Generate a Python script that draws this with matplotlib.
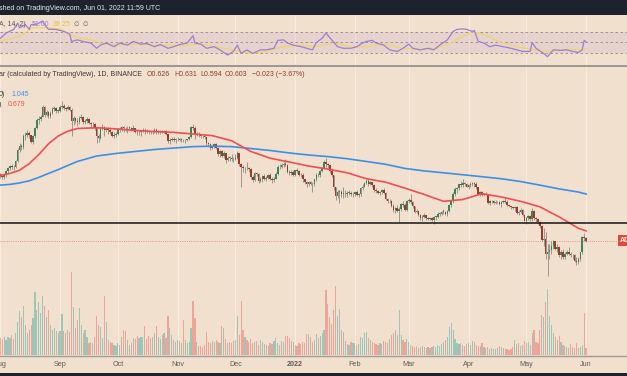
import datetime as dt
import numpy as np
import matplotlib
matplotlib.use("Agg")
import matplotlib.pyplot as plt
from matplotlib.patches import Rectangle
from matplotlib.lines import Line2D

plt.rcParams['font.family'] = ['Liberation Sans', 'DejaVu Sans']

# ---------------- data (ADA/USDT daily, Aug 1 2021 - Jun 1 2022) ----------------
start_date = dt.date(2021, 8, 1)
first_open = 1.32

close_aug = [1.29,1.27,1.30,1.37,1.41,1.45,1.44,1.43,1.53,1.74,1.84,1.81,2.07,2.09,2.13,2.08,
             1.93,2.05,2.26,2.48,2.50,2.58,2.90,2.65,2.72,2.59,2.70,2.82,2.87,2.76,2.77]
high_aug = [1.33,1.31,1.32,1.39,1.43,1.47,1.49,1.47,1.56,1.80,1.90,1.88,2.10,2.15,2.20,2.18,
            2.09,2.09,2.30,2.55,2.59,2.65,2.95,2.92,2.80,2.75,2.76,2.88,2.93,2.90,2.84]
low_aug = [1.26,1.24,1.25,1.28,1.34,1.38,1.40,1.38,1.42,1.52,1.70,1.75,1.78,1.97,2.03,2.02,
           1.90,1.88,2.02,2.24,2.36,2.46,2.57,2.58,2.60,2.53,2.55,2.66,2.76,2.70,2.70]

close_sep = [2.88,2.94,2.86,2.83,2.91,2.81,2.45,2.53,2.47,2.42,2.55,2.58,2.44,2.46,2.52,2.40,
             2.36,2.37,2.26,2.06,2.02,2.25,2.29,2.20,2.26,2.21,2.15,2.06,2.08,2.12]
high_sep = [2.96,3.10,2.98,2.90,2.96,2.94,2.85,2.60,2.57,2.55,2.60,2.66,2.60,2.52,2.56,2.54,
            2.43,2.44,2.40,2.28,2.12,2.28,2.36,2.33,2.30,2.30,2.29,2.18,2.15,2.17]
low_sep = [2.74,2.82,2.78,2.76,2.80,2.77,2.05,2.35,2.40,2.33,2.37,2.50,2.38,2.36,2.41,2.37,
           2.28,2.30,2.22,1.91,1.93,2.00,2.21,2.07,2.16,2.12,2.10,2.04,2.01,2.04]

close_oct = [2.23,2.22,2.28,2.26,2.25,2.26,2.27,2.22,2.25,2.17,2.15,2.15,2.18,2.20,2.19,2.17,
             2.16,2.15,2.16,2.21,2.15,2.15,2.19,2.16,2.19,2.10,1.95,1.97,1.98,1.96,1.98]
high_oct = [2.26,2.28,2.32,2.33,2.30,2.31,2.32,2.29,2.35,2.27,2.21,2.21,2.22,2.25,2.26,2.24,
            2.20,2.19,2.20,2.26,2.26,2.20,2.22,2.21,2.22,2.22,2.12,2.02,2.03,2.03,2.01]
low_oct = [2.08,2.17,2.18,2.16,2.19,2.13,2.21,2.19,2.18,2.14,2.08,2.09,2.07,2.15,2.11,2.13,
           2.10,2.10,2.11,2.13,2.12,2.10,2.12,2.14,2.13,2.08,1.91,1.87,1.94,1.93,1.91]

close_nov = [1.99,1.97,1.97,1.96,1.96,1.98,2.03,2.28,2.27,2.10,2.12,2.08,2.06,2.05,2.03,1.89,
             1.88,1.79,1.83,1.87,1.80,1.67,1.73,1.64,1.68,1.55,1.60,1.59,1.58,1.57]
high_nov = [2.03,2.01,2.01,2.00,1.99,2.00,2.05,2.33,2.37,2.32,2.15,2.15,2.11,2.08,2.09,2.03,
            1.93,1.90,1.85,1.90,1.90,1.81,1.75,1.75,1.73,1.69,1.63,1.63,1.66,1.62]
low_nov = [1.94,1.94,1.93,1.93,1.91,1.94,1.96,2.02,2.20,2.00,2.05,2.03,2.02,2.01,1.98,1.86,
           1.82,1.75,1.77,1.80,1.78,1.63,1.62,1.62,1.60,1.51,1.53,1.53,1.54,1.52]

close_dec = [1.60,1.68,1.49,1.43,1.41,1.42,1.41,1.40,1.27,1.23,1.33,1.32,1.22,1.24,1.29,1.25,
             1.26,1.30,1.25,1.23,1.25,1.32,1.44,1.43,1.46,1.49,1.47,1.36,1.33,1.36,1.31]
high_dec = [1.66,1.72,1.69,1.50,1.47,1.44,1.52,1.44,1.42,1.30,1.35,1.36,1.33,1.27,1.31,1.32,
            1.29,1.32,1.33,1.27,1.28,1.35,1.46,1.48,1.50,1.52,1.58,1.48,1.39,1.38,1.39]
low_dec = [1.55,1.57,1.45,1.13,1.35,1.33,1.39,1.35,1.25,1.21,1.22,1.29,1.19,1.20,1.21,1.23,
           1.22,1.24,1.23,1.19,1.21,1.24,1.31,1.40,1.41,1.44,1.45,1.34,1.30,1.31,1.29]

close_jan = [1.38,1.37,1.31,1.30,1.24,1.20,1.18,1.20,1.18,1.17,1.24,1.31,1.30,1.37,1.42,1.52,
             1.48,1.46,1.37,1.30,1.13,1.02,1.07,1.07,1.05,1.05,1.04,1.06,1.06,1.04,1.05]
high_jan = [1.39,1.41,1.39,1.34,1.33,1.24,1.22,1.22,1.22,1.20,1.25,1.33,1.34,1.38,1.44,1.56,
            1.60,1.50,1.48,1.40,1.31,1.14,1.10,1.10,1.10,1.13,1.09,1.08,1.09,1.08,1.07]
low_jan = [1.29,1.34,1.29,1.28,1.20,1.17,1.14,1.15,1.16,1.07,1.15,1.22,1.27,1.27,1.35,1.41,
           1.44,1.41,1.34,1.27,1.09,0.98,1.00,0.94,1.01,1.00,1.01,1.01,1.03,1.02,1.01]

close_feb = [1.07,1.03,1.04,1.12,1.14,1.19,1.22,1.18,1.20,1.16,1.09,1.08,1.06,1.07,1.10,1.06,
             0.99,0.96,0.96,0.91,0.87,0.89,0.86,0.88,0.93,0.92,0.87,0.96]
high_feb = [1.08,1.09,1.06,1.13,1.17,1.20,1.25,1.24,1.22,1.21,1.17,1.12,1.10,1.08,1.11,1.12,
            1.07,1.00,0.99,0.97,0.93,0.90,0.92,0.90,0.94,0.96,0.94,0.97]
low_feb = [1.02,1.02,1.01,1.02,1.10,1.13,1.17,1.15,1.16,1.13,1.07,1.06,1.04,1.03,1.05,1.05,
           0.98,0.94,0.94,0.90,0.85,0.84,0.85,0.75,0.86,0.90,0.86,0.86]

close_mar = [0.97,0.95,0.91,0.85,0.86,0.82,0.79,0.80,0.82,0.79,0.78,0.79,0.77,0.80,0.80,0.83,
             0.83,0.85,0.85,0.83,0.86,0.92,0.96,1.04,1.11,1.12,1.17,1.16,1.19,1.18,1.14]
high_mar = [1.00,1.04,0.96,0.91,0.88,0.86,0.83,0.82,0.84,0.82,0.80,0.80,0.80,0.81,0.81,0.85,
            0.85,0.86,0.88,0.86,0.87,0.93,0.97,1.07,1.13,1.14,1.18,1.22,1.24,1.21,1.19]
low_mar = [0.94,0.93,0.89,0.84,0.84,0.81,0.77,0.76,0.79,0.77,0.77,0.77,0.76,0.74,0.77,0.79,
           0.81,0.82,0.83,0.82,0.81,0.85,0.90,0.94,1.02,1.06,1.09,1.13,1.13,1.15,1.13]

close_apr = [1.16,1.17,1.19,1.18,1.13,1.04,1.07,1.03,1.05,1.04,0.94,0.96,0.96,0.94,0.95,0.95,
             0.93,0.95,0.96,0.95,0.92,0.91,0.90,0.89,0.90,0.84,0.85,0.87,0.82,0.76]
high_apr = [1.17,1.20,1.20,1.21,1.20,1.13,1.08,1.08,1.06,1.07,1.04,0.97,0.98,0.97,0.97,0.96,
            0.96,0.96,0.98,1.00,0.98,0.92,0.91,0.90,0.91,0.91,0.87,0.89,0.88,0.83]
low_apr = [1.11,1.13,1.15,1.14,1.11,1.03,1.02,1.02,1.02,1.03,0.93,0.92,0.94,0.93,0.93,0.94,
           0.92,0.90,0.94,0.94,0.91,0.90,0.88,0.88,0.86,0.83,0.82,0.84,0.81,0.76]

close_may = [0.79,0.81,0.78,0.86,0.79,0.78,0.75,0.72,0.61,0.62,0.52,0.53,0.54,0.57,0.60,0.55,
             0.56,0.51,0.53,0.50,0.52,0.53,0.52,0.51,0.51,0.48,0.47,0.49,0.53,0.63,0.626]
high_may = [0.80,0.82,0.82,0.89,0.87,0.80,0.79,0.76,0.73,0.70,0.67,0.58,0.58,0.60,0.61,0.60,
            0.58,0.57,0.54,0.55,0.53,0.54,0.56,0.53,0.52,0.52,0.50,0.50,0.53,0.64,0.66]
low_may = [0.74,0.77,0.76,0.76,0.77,0.75,0.74,0.70,0.60,0.57,0.49,0.40,0.49,0.52,0.55,0.54,
           0.53,0.50,0.49,0.49,0.49,0.51,0.51,0.50,0.49,0.47,0.455,0.46,0.48,0.52,0.60]

close_jun = [0.603]
high_jun = [0.631]
low_jun = [0.594]

vol_aug = [17,16,18,15,18,17,20,16,22,33,44,38,49,30,22,25,30,37,63,45,53,42,59,49,38,45,30,25,27,24,22]
vol_sep = [24,41,24,22,25,23,83,48,27,35,47,30,22,25,18,12,13,12,18,39,30,28,17,59,33,15,13,12,10,9]
vol_oct = [12,10,18,25,24,15,10,12,17,16,19,17,18,18,29,16,19,17,18,22,29,18,16,20,22,17,39,27,20,15,13]
vol_nov = [15,14,12,35,15,12,13,27,54,37,13,9,9,8,10,23,13,12,14,13,15,13,12,29,27,16,12,13,12,14]
vol_dec = [15,39,20,54,25,18,15,13,16,12,13,14,10,15,13,11,10,9,12,11,14,17,12,10,14,13,19,19,17,14,13]
vol_jan = [10,9,12,11,13,12,21,21,18,13,15,21,17,19,22,25,65,51,38,31,45,69,39,46,25,23,14,11,10,13,12]
vol_feb = [12,10,11,18,17,22,23,17,15,13,12,11,10,12,11,14,13,12,16,20,22,25,20,45,20,15,13,16]
vol_mar = [13,10,9,8,9,7,8,9,8,7,8,7,8,9,8,10,9,11,13,15,18,28,32,25,16,12,11,12,10,9,11]
vol_apr = [12,10,14,13,10,9,9,12,8,7,8,6,7,6,6,7,9,8,7,6,6,5,6,8,15,11,12,9,10,14]
vol_may = [12,13,10,22,25,13,12,25,40,38,53,66,39,30,22,18,15,19,13,10,9,8,7,11,8,7,12,7,8,10,42]
vol_jun = [7]

# moving averages (day index from Aug 1 2021)
ma_days = [0,5,10,15,20,25,30,35,40,50,60,70,80,90,100,110,120,130,140,150,160,170,180,190,200,
           210,220,230,240,250,260,270,280,290,300,304]
ma50_vals = [1.30,1.33,1.38,1.49,1.66,1.88,2.06,2.18,2.25,2.27,2.24,2.20,2.17,2.15,2.11,2.07,
             1.95,1.72,1.59,1.52,1.45,1.40,1.34,1.25,1.20,1.12,1.04,0.96,0.98,1.05,1.01,0.96,
             0.90,0.80,0.70,0.679]
ma200_vals = [1.16,1.17,1.19,1.22,1.27,1.33,1.39,1.46,1.53,1.63,1.68,1.72,1.76,1.79,1.82,1.83,
              1.82,1.78,1.74,1.69,1.65,1.62,1.58,1.53,1.48,1.41,1.37,1.34,1.31,1.28,1.25,1.21,
              1.16,1.11,1.07,1.045]

# RSI(14) and its moving average
rsi_days = [0,3,7,9,10,13,15,16,19,22,23,25,28,30,33,35,36,37,40,43,47,50,52,55,59,62,66,69,73,
            76,80,83,87,90,93,97,100,101,104,107,111,114,118,121,123,125,128,131,135,138,142,
            144,147,149,152,156,159,162,164,167,169,172,175,178,182,185,188,190,193,195,199,
            202,206,209,212,214,218,222,225,228,232,235,237,240,242,245,246,248,251,254,257,
            261,265,268,271,275,276,278,282,284,287,291,294,297,300,302,303,304]
rsi_vals = [58,68,75,87,78,84,75,84,85,91,84,75,75,74,71,68,66,52,55,52,49,39,45,49,42,49,45,52,
            47,48,42,46,39,42,46,49,63,49,47,39,42,36,26,33,45,29,36,29,36,36,39,54,55,49,45,42,
            39,36,50,58,68,55,42,39,39,42,49,52,54,49,45,36,33,39,47,39,36,39,36,45,55,71,75,76,
            75,71,73,52,49,42,45,42,39,36,33,33,50,39,29,23,36,35,36,33,31,36,54,51.6]
rsi_ma_days = [0,10,17,26,31,36,42,47,52,60,69,78,86,95,104,112,121,130,138,147,156,164,173,
               182,190,199,208,216,225,234,242,245,251,259,268,277,285,294,303,304]
rsi_ma_vals = [52,62,78,78,76,65,58,55,49,45,47,45,45,44,47,42,35,29,33,42,45,42,49,42,42,47,
               39,37,38,50,65,71,65,52,42,36,33,36,37,39]

support_level = 0.744
month_starts = [dt.date(2021, 8, 1), dt.date(2021, 9, 1), dt.date(2021, 10, 1), dt.date(2021, 11, 1),
                dt.date(2021, 12, 1), dt.date(2022, 1, 1), dt.date(2022, 2, 1), dt.date(2022, 3, 1),
                dt.date(2022, 4, 1), dt.date(2022, 5, 1), dt.date(2022, 6, 1)]
month_labels = ["Aug", "Sep", "Oct", "Nov", "Dec", "2022", "Feb", "Mar", "Apr", "May", "Jun"]

# ---------------- assemble ----------------
closes = np.array(close_aug + close_sep + close_oct + close_nov + close_dec + close_jan +
                  close_feb + close_mar + close_apr + close_may + close_jun)
highs = np.array(high_aug + high_sep + high_oct + high_nov + high_dec + high_jan +
                 high_feb + high_mar + high_apr + high_may + high_jun)
lows = np.array(low_aug + low_sep + low_oct + low_nov + low_dec + low_jan +
                low_feb + low_mar + low_apr + low_may + low_jun)
volumes = np.array(vol_aug + vol_sep + vol_oct + vol_nov + vol_dec + vol_jan +
                   vol_feb + vol_mar + vol_apr + vol_may + vol_jun, dtype=float)
n = min(len(closes), len(highs), len(lows), len(volumes))
closes, highs, lows, volumes = closes[:n], highs[:n], lows[:n], volumes[:n]
opens = np.r_[first_open, closes[:-1]]
highs = np.maximum(highs, np.maximum(opens, closes))
lows = np.minimum(lows, np.minimum(opens, closes))
x = np.arange(n)
up = closes >= opens

# ---------------- style ----------------
W, H = 627, 376
BG = '#f2e0cf'
DARK = '#1e222d'
GRID = '#f7ebe0'
PX_PER_DAY = 1.927
X0 = -0.15
XLIM = (X0, X0 + W / PX_PER_DAY)

fig = plt.figure(figsize=(W / 100, H / 100), dpi=100)
fig.patch.set_facecolor(BG)


def rect(top, bottom):
    return [0, 1 - bottom / H, 1, (bottom - top) / H]


def ftext(xp, yp, s, **kw):
    kw.setdefault('va', 'center')
    kw.setdefault('fontsize', 5.0)
    fig.text(xp / W, 1 - yp / H, s, **kw)


def hline_px(yp, color, lw):
    fig.add_artist(Line2D([0, 1], [1 - yp / H, 1 - yp / H], transform=fig.transFigure,
                          color=color, lw=lw))


month_days = [(d - start_date).days for d in month_starts]

# top dark bar
ax_top = fig.add_axes(rect(0, 15))
ax_top.set_facecolor(DARK)
ax_top.set_xticks([]); ax_top.set_yticks([])
for s in ax_top.spines.values():
    s.set_visible(False)

# bottom dark strip
ax_bot = fig.add_axes(rect(373, 376))
ax_bot.set_facecolor(DARK)
ax_bot.set_xticks([]); ax_bot.set_yticks([])
for s in ax_bot.spines.values():
    s.set_visible(False)

# RSI pane
ax_rsi = fig.add_axes(rect(15, 66))
ax_rsi.set_facecolor(BG)
ax_rsi.set_xlim(*XLIM)
ax_rsi.set_ylim(5.2, 102.4)
for d in month_days:
    ax_rsi.axvline(d, color=GRID, lw=0.8, zorder=0)
ax_rsi.axhspan(30, 70, color='#7e57c2', alpha=0.09, lw=0, zorder=1)
for lvl in (70, 50, 30):
    ax_rsi.axhline(lvl, color='#8f8a88', lw=0.6, dashes=(3, 3), zorder=2)
ax_rsi.plot(rsi_ma_days, rsi_ma_vals, color='#f0d46a', lw=0.9, zorder=3)
ax_rsi.plot(rsi_days, rsi_vals, color='#9b7fd4', lw=0.9, zorder=4)
ax_rsi.axis('off')

# volume (behind price)
ax_vol = fig.add_axes(rect(67, 355))
ax_vol.set_facecolor(BG)
ax_vol.set_xlim(*XLIM)
ax_vol.set_ylim(0, 288)
for d in month_days:
    ax_vol.axvline(d, color=GRID, lw=0.8, zorder=0)
vcol = np.where(up, '#26a69a', '#ef5350')
ax_vol.bar(x, volumes, width=0.62, color=vcol, alpha=0.42, linewidth=0, zorder=2)
ax_vol.axis('off')

# price pane
ax = fig.add_axes(rect(67, 355))
ax.patch.set_alpha(0)
ax.set_yscale('log')
ax.set_xlim(*XLIM)
ax.set_ylim(0.159, 4.62)
ax.axis('off')

ax.vlines(x, lows, highs, color='#8e8a86', lw=0.6, zorder=3)
bottoms = np.minimum(opens, closes)
tops = np.maximum(np.maximum(opens, closes), bottoms * 1.008)
bcol = np.where(up, '#3a8556', '#9e3a2b')
ax.bar(x, tops - bottoms, bottom=bottoms, width=0.82, color=bcol, linewidth=0, zorder=4)

ax.plot(ma_days, ma200_vals, color='#3d8fe6', lw=1.2, zorder=5)
ax.plot(ma_days, ma50_vals, color='#ee4f50', lw=1.2, zorder=5)
ax.axhline(support_level, color='#141414', lw=1.1, zorder=6)
ax.axhline(closes[-1], color='#e8776f', lw=0.6, ls=(0, (1, 1.6)), zorder=2)

# separators
hline_px(66, '#8d8a88', 1.2)
hline_px(355.5, '#9d9a98', 1.0)

# price label at right edge
fig.add_artist(Rectangle((618 / W, 1 - 246 / H), 12 / W, 11 / H, transform=fig.transFigure,
                         color='#e0483c', lw=0))
ftext(619.5, 240.5, 'AD', color='white', fontsize=5, fontweight='bold')

# texts
ftext(-1, 8, 'shed on TradingView.com, Jun 01, 2022 11:59 UTC', color='#e6e8ee', fontsize=5.0)
ftext(-1, 24, 'A, 14, 2)', color='#5a5654')
ftext(32, 24, '51.60', color='#9b7fd4')
ftext(53, 24, '39.25', color='#e0c24a')
ftext(74, 24, '\u2205  \u2205', color='#6a6664', fontsize=4.6)

ftext(-1, 75, 'ar (calculated by TradingView), 1D, BINANCE', color='#3a3634', fontsize=5.0)
ftext(147, 75, 'O0.626', color='#8e3b34')
ftext(174, 75, 'H0.631', color='#8e3b34')
ftext(200, 75, 'L0.594', color='#8e3b34')
ftext(225, 75, 'C0.603', color='#8e3b34')
ftext(252, 75, '\u22120.023 (\u22123.67%)', color='#8e3b34')
ftext(-1, 95, '0)', color='#3a3634')
ftext(11, 95, '1.045', color='#3d8fe6')
ftext(-1, 105, ')', color='#3a3634')
ftext(8, 105, '0.679', color='#ee4f50')

for d, lab in zip(month_days, month_labels):
    xp = (d - X0) * PX_PER_DAY
    ftext(xp, 364.5, lab, color='#5f5b58', ha='center', fontsize=5.2,
          fontweight='bold' if lab == '2022' else 'normal')

fig.savefig('out.png', dpi=100, facecolor=fig.get_facecolor())
